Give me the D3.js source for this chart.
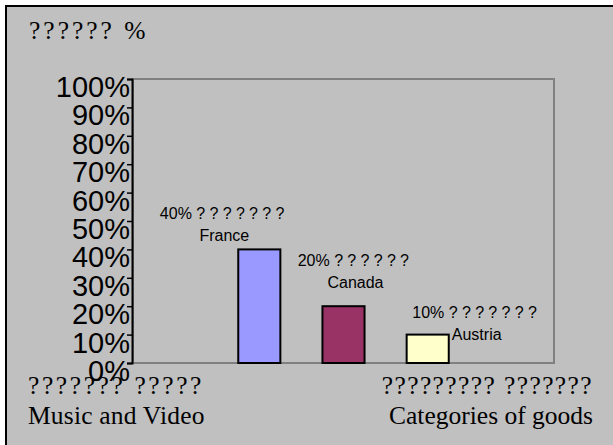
<!DOCTYPE html>
<html>
<head>
<meta charset="utf-8">
<script src="https://cdn.jsdelivr.net/npm/d3@7/dist/d3.min.js"></script>
<style>
  body { margin: 0; background: #fff; }
  svg { display: block; }
  .axis path, .axis line { stroke: #000; }
</style>
</head>
<body>
<svg width="613" height="445"></svg>
<script>
// chart values
var categories = ["France", "Canada", "Austria"];
var shares = [40, 20, 10];
var localNames = ["???????", "??????", "???????"];
var barColors = ["#9999ff", "#993366", "#ffffcc"];
var yTicks = [0, 10, 20, 30, 40, 50, 60, 70, 80, 90, 100];

// label nudges (px) relative to bar centre / bar top
var labelDx = [-35, 12, 49],
    labelDy = [-8, -18, 5];

var svg = d3.select("svg");

// grey frame
svg.append("rect")
    .attr("x", 6).attr("y", 6)
    .attr("width", 640).attr("height", 480)
    .attr("fill", "#c0c0c0")
    .attr("stroke", "#000")
    .attr("stroke-width", 2);

var plot = {left: 133, right: 554, top: 79, bottom: 363};

// empty slot on each side, like the original
var slots = ["", ...categories, " "];

var x = d3.scaleBand()
    .domain(slots)
    .range([plot.left, plot.right])
    .paddingInner(0.5)
    .paddingOuter(0.25);

var y = d3.scaleLinear()
    .domain([0, 100])
    .range([plot.bottom, plot.top]);

// plot area border
svg.append("rect")
    .attr("x", plot.left).attr("y", plot.top)
    .attr("width", plot.right - plot.left)
    .attr("height", plot.bottom - plot.top)
    .attr("fill", "none")
    .attr("stroke", "#808080")
    .attr("stroke-width", 2);

var yAxis = svg.append("g")
    .attr("class", "axis")
    .attr("transform", "translate(" + (plot.left - 1) + ",0)")
    .call(d3.axisLeft(y).tickValues(yTicks).tickSize(5).tickPadding(-3)
      .tickFormat(function(d) { return d + "%"; }));

yAxis.select(".domain").attr("stroke-width", 2);
yAxis.selectAll(".tick line").attr("stroke-width", 1.5);
yAxis.selectAll(".tick text")
    .attr("dy", "0.6em")
    .attr("fill", "#000")
    .style("font-family", "Arial, 'Liberation Sans', sans-serif")
    .style("font-size", "29px");

var data = categories.map(function(c, i) {
  return {name: c, value: shares[i], local: localNames[i], color: barColors[i], i: i};
});

svg.selectAll(".bar")
  .data(data)
  .enter().append("rect")
    .attr("class", "bar")
    .attr("x", function(d) { return x(d.name); })
    .attr("y", function(d) { return y(d.value); })
    .attr("width", x.bandwidth())
    .attr("height", function(d) { return y(0) - y(d.value); })
    .attr("fill", function(d) { return d.color; })
    .attr("stroke", "#000")
    .attr("stroke-width", 2);

var labels = svg.selectAll(".lbl")
  .data(data)
  .enter().append("text")
    .attr("class", "lbl")
    .attr("text-anchor", "middle")
    .style("font-family", "Arial, 'Liberation Sans', sans-serif")
    .style("font-size", "16px")
    .attr("fill", "#000");

labels.append("tspan")
    .attr("x", function(d) { return x(d.name) + x.bandwidth() / 2 + labelDx[d.i]; })
    .attr("y", function(d) { return y(d.value) + labelDy[d.i] - 22; })
    .text(function(d) { return d.value + "% "; })
  .append("tspan")
    .style("letter-spacing", "4.3px")
    .text(function(d) { return d.local; });

labels.append("tspan")
    .attr("x", function(d) { return x(d.name) + x.bandwidth() / 2 + labelDx[d.i]; })
    .attr("y", function(d) { return y(d.value) + labelDy[d.i]; })
    .text(function(d) { return d.name; });

// serif captions
var serif = "'Times New Roman', 'Liberation Serif', serif";

function caption(txt, xPos, yPos, anchor, spacing) {
  svg.append("text")
      .attr("x", xPos).attr("y", yPos)
      .attr("text-anchor", anchor)
      .style("font-family", serif)
      .style("font-size", "25.5px")
      .style("letter-spacing", spacing + "px")
      .attr("fill", "#000")
      .text(txt);
}

caption("?????? %", 29, 39, "start", 3);
caption("??????? ?????", 28, 394, "start", 2.6);
caption("Music and Video", 28, 424, "start", 0.2);
caption("????????? ???????", 593, 394, "end", 1.4);
caption("Categories of goods", 593, 424, "end", 0);
</script>
</body>
</html>
